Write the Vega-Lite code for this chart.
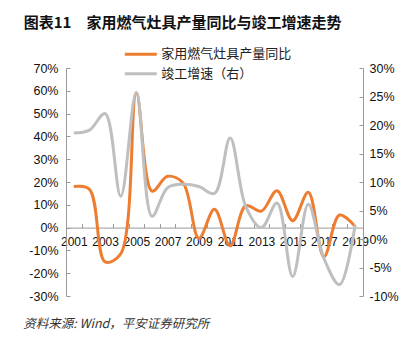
{
  "$schema": "https://vega.github.io/schema/vega-lite/v6.json",
  "width": 297,
  "height": 228,
  "autosize": "none",
  "padding": {"left": 66, "top": 68, "right": 53, "bottom": 61},
  "background": "white",
  "title": {
    "text": "图表11　家用燃气灶具产量同比与竣工增速走势",
    "anchor": "start",
    "frame": "bounds",
    "font": "Noto Sans CJK SC",
    "fontSize": 15,
    "fontWeight": "bold",
    "color": "#111111",
    "offset": 14,
    "dx": 1
  },
  "data": {
    "values": [
      {"year": 2001, "production": 18.0, "completion": 18.6},
      {"year": 2002, "production": 16.8, "completion": 19.1},
      {"year": 2003, "production": -15.0, "completion": 22.0},
      {"year": 2004, "production": -11.5, "completion": 7.5},
      {"year": 2005, "production": 59.0, "completion": 25.7},
      {"year": 2006, "production": 16.0, "completion": 4.0},
      {"year": 2007, "production": 22.5, "completion": 9.0},
      {"year": 2008, "production": 19.5, "completion": 9.6},
      {"year": 2009, "production": -4.7, "completion": 9.2},
      {"year": 2010, "production": 8.0, "completion": 8.0},
      {"year": 2011, "production": -8.0, "completion": 17.7},
      {"year": 2012, "production": 9.6, "completion": 5.7},
      {"year": 2013, "production": 7.2, "completion": 2.0},
      {"year": 2014, "production": 16.2, "completion": 6.3},
      {"year": 2015, "production": 3.0, "completion": -6.6},
      {"year": 2016, "production": 15.5, "completion": 6.1},
      {"year": 2017, "production": -12.8, "completion": -3.4},
      {"year": 2018, "production": 5.5, "completion": -8.0},
      {"year": 2019, "production": 0.5, "completion": 2.5}
    ]
  },
  "encoding": {
    "x": {
      "field": "year",
      "type": "ordinal",
      "bandPosition": 0.5,
      "scale": {"type": "band", "paddingInner": 0, "paddingOuter": 0},
      "axis": {
        "orient": "bottom",
        "offset": -68.4,
        "tickBand": "extent",
        "tickSize": -4,
        "tickColor": "#999999",
        "domainColor": "#999999",
        "labelExpr": "datum.value % 2 == 1 ? datum.label : ''",
        "labelOverlap": false,
        "labelAngle": 0,
        "labelFont": "Liberation Sans",
        "labelFontSize": 12,
        "labelColor": "#111111",
        "labelPadding": 13,
        "title": "资料来源: Wind，平安证券研究所",
        "titleX": -43.3,
        "titleY": 95.7,
        "titleAlign": "left",
        "titleAnchor": "start",
        "titleBaseline": "middle",
        "titleFont": "Noto Sans CJK SC",
        "titleFontSize": 12.5,
        "titleFontStyle": "italic",
        "titleFontWeight": "normal",
        "titleColor": "#333333"
      }
    }
  },
  "layer": [
    {
      "mark": {"type": "line", "interpolate": "catmull-rom", "strokeWidth": 3},
      "encoding": {
        "y": {
          "field": "production",
          "type": "quantitative",
          "scale": {"domain": [-30, 70], "nice": false, "zero": false},
          "axis": {
            "orient": "left",
            "values": [-30, -20, -10, 0, 10, 20, 30, 40, 50, 60, 70],
            "labelExpr": "datum.value + '%'",
            "grid": false,
            "title": null,
            "tickSize": -4,
            "tickColor": "#999999",
            "domainColor": "#999999",
            "labelFont": "Liberation Sans",
            "labelFontSize": 12.5,
            "labelColor": "#111111",
            "labelPadding": 12
          }
        },
        "color": {
          "datum": "家用燃气灶具产量同比",
          "type": "nominal",
          "scale": {"domain": ["家用燃气灶具产量同比", "竣工增速（右）"], "range": ["#ED7D31", "#BFBFBF"]},
          "legend": {
            "orient": "none",
            "legendX": 65.3,
            "legendY": -23.3,
            "title": null,
            "symbolType": "M-2,0H2",
            "symbolSize": 256,
            "symbolStrokeWidth": 3,
            "labelFont": "Noto Sans CJK SC",
            "labelFontSize": 13,
            "labelColor": "#222222",
            "labelOffset": 11,
            "rowPadding": 2.6
          }
        }
      }
    },
    {
      "mark": {"type": "line", "interpolate": "catmull-rom", "strokeWidth": 3},
      "encoding": {
        "y": {
          "field": "completion",
          "type": "quantitative",
          "scale": {"domain": [-10, 30], "nice": false, "zero": false},
          "axis": {
            "orient": "right",
            "values": [-10, -5, 0, 5, 10, 15, 20, 25, 30],
            "labelExpr": "datum.value + '%'",
            "grid": false,
            "title": null,
            "tickSize": -4,
            "tickColor": "#999999",
            "domainColor": "#999999",
            "labelFont": "Liberation Sans",
            "labelFontSize": 12.5,
            "labelColor": "#111111",
            "labelPadding": 10
          }
        },
        "color": {"datum": "竣工增速（右）", "type": "nominal"}
      }
    }
  ],
  "resolve": {"scale": {"y": "independent"}},
  "config": {"view": {"stroke": null}}
}
